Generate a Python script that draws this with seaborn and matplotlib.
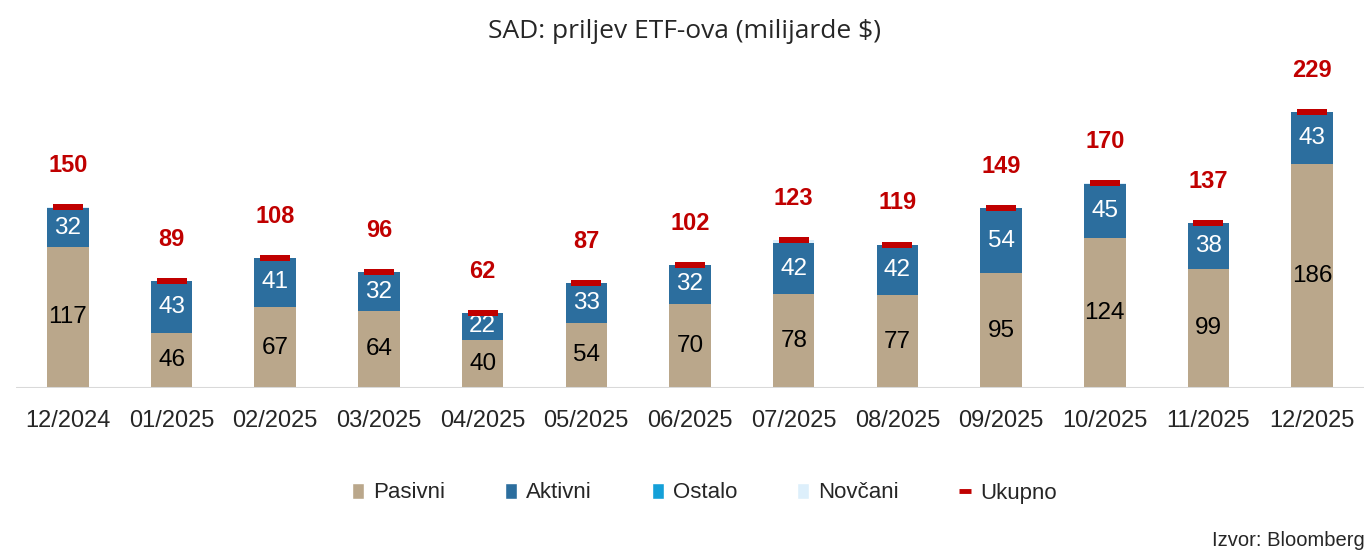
import matplotlib
matplotlib.use("Agg")
import matplotlib.pyplot as plt
import seaborn as sns
import pandas as pd
import numpy as np
from matplotlib.patches import Patch
from matplotlib.lines import Line2D

months = ["12/2024", "01/2025", "02/2025", "03/2025", "04/2025", "05/2025", "06/2025",
          "07/2025", "08/2025", "09/2025", "10/2025", "11/2025", "12/2025"]
pasivni = [117, 46, 67, 64, 40, 54, 70, 78, 77, 95, 124, 99, 186]
aktivni = [32, 43, 41, 32, 22, 33, 32, 42, 42, 54, 45, 38, 43]
ostalo = [0, 0, 0, 0, 0, 0, 0, 0, 0, 0, 0, 0, 0]
novcani = [1, 0, 0, 0, 0, 0, 0, 3, 0, 0, 1, 0, 0]
ukupno = [150, 89, 108, 96, 62, 87, 102, 123, 119, 149, 170, 137, 229]

C_PAS = "#BAA78B"
C_AKT = "#2C6E9E"
C_OST = "#14A0D8"
C_NOV = "#DDEFFB"
C_RED = "#C00000"

sns.set_theme(style="white")
plt.rcParams["font.family"] = ["Liberation Sans", "DejaVu Sans"]

df = pd.DataFrame({"mjesec": months, "pasivni": pasivni, "aktivni": aktivni,
                   "ostalo": ostalo, "novcani": novcani, "ukupno": ukupno})
df["c_akt"] = df["pasivni"] + df["aktivni"]
df["c_ost"] = df["c_akt"] + df["ostalo"]
df["c_nov"] = df["c_ost"] + df["novcani"]

fig = plt.figure(figsize=(13.68, 5.6), dpi=100)
ax = fig.add_axes([16 / 1368, 1 - 388 / 560, 1348 / 1368, 328 / 560])

for col, colr in [("c_nov", C_NOV), ("c_ost", C_OST), ("c_akt", C_AKT), ("pasivni", C_PAS)]:
    sns.barplot(data=df, x="mjesec", y=col, order=months, color=colr, saturation=1,
                width=0.4, ax=ax, errorbar=None, linewidth=0)

# total markers
marker_verts = [(-0.5, -0.105), (0.5, -0.105), (0.5, 0.105), (-0.5, 0.105), (-0.5, -0.105)]
sns.scatterplot(data=df, x="mjesec", y="ukupno", marker=marker_verts, s=440,
                color=C_RED, linewidth=0, ax=ax, zorder=5, legend=False)

for i, row in df.iterrows():
    ax.text(i, row["pasivni"] / 2, f"{row['pasivni']}", ha="center", va="center",
            fontsize=17.5, color="black")
    ax.text(i, row["pasivni"] + row["aktivni"] / 2, f"{row['aktivni']}", ha="center",
            va="center", fontsize=17.5, color="white")
    ax.annotate(f"{row['ukupno']}", (i, row["ukupno"]), xytext=(0, 30),
                textcoords="offset points", ha="center", va="center",
                fontsize=17, fontweight="bold", color=C_RED)

ax.set_xlim(-0.5, 12.5)
ax.set_ylim(0, 272)
ax.set_xlabel("")
ax.set_ylabel("")
ax.set_yticks([])
for s in ["top", "right", "left", "bottom"]:
    ax.spines[s].set_visible(False)
ax.axhline(0, color="#D9D9D9", lw=2.2, zorder=6)
ax.tick_params(axis="x", length=0, pad=16, labelsize=17)

fig.text(0.5, 1 - 31 / 560, "SAD: priljev ETF-ova (milijarde $)", ha="center", va="center",
         fontsize=19, family=["Open Sans", "DejaVu Sans"])

handles = [Patch(facecolor=C_PAS, label="Pasivni"),
           Patch(facecolor=C_AKT, label="Aktivni"),
           Patch(facecolor=C_OST, label="Ostalo"),
           Patch(facecolor=C_NOV, label="Novčani"),
           Line2D([0], [0], color=C_RED, lw=3.5, solid_capstyle="butt", label="Ukupno")]
leg = fig.legend(handles=handles, loc="center", bbox_to_anchor=(704 / 1368, 1 - 493 / 560),
                 ncol=5, frameon=False, handlelength=0.55, handleheight=0.7,
                 handletextpad=0.4, columnspacing=2.7,
                 prop={"size": 16})

fig.text(1365 / 1368, 1 - 540 / 560, "Izvor: Bloomberg", ha="right", va="center",
         fontsize=14.5)

fig.savefig("out.png", dpi=100)
